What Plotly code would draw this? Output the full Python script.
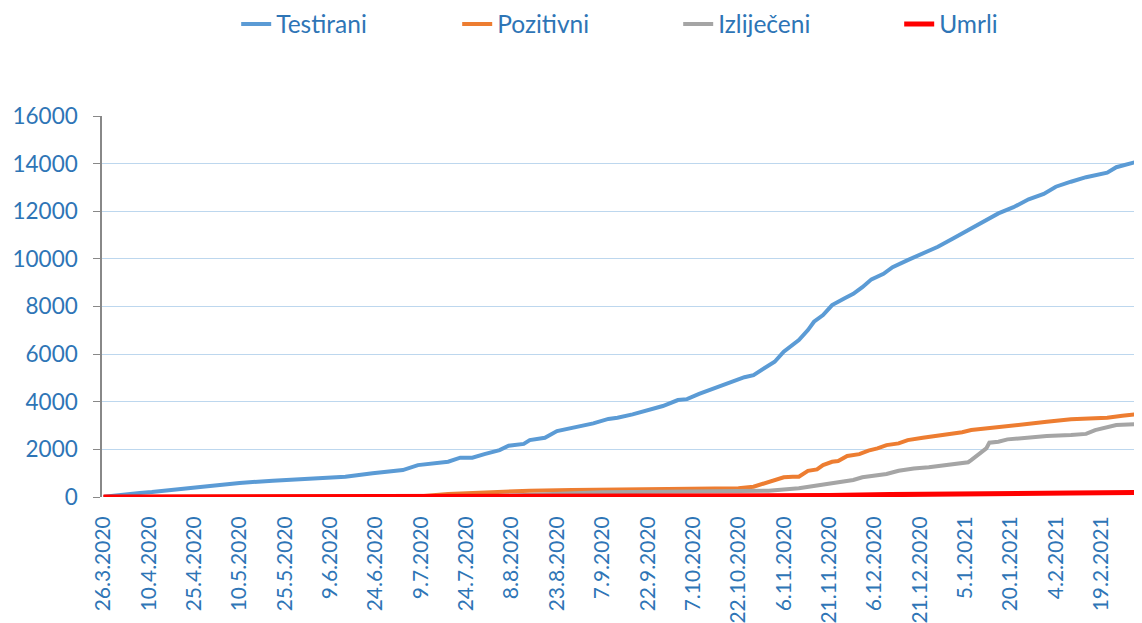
import plotly.graph_objects as go

# ---- data ----
testirani_dates = ["2020-03-26", "2020-03-27", "2020-04-07", "2020-04-11", "2020-04-27", "2020-05-10",
                   "2020-05-21", "2020-06-14", "2020-06-23", "2020-07-03", "2020-07-08", "2020-07-18",
                   "2020-07-22", "2020-07-26", "2020-07-30", "2020-08-04", "2020-08-07", "2020-08-12",
                   "2020-08-14", "2020-08-19", "2020-08-23", "2020-08-28", "2020-09-04", "2020-09-09",
                   "2020-09-12", "2020-09-17", "2020-09-24", "2020-09-27", "2020-10-02", "2020-10-05",
                   "2020-10-09", "2020-10-14", "2020-10-19", "2020-10-24", "2020-10-27", "2020-10-30",
                   "2020-11-03", "2020-11-06", "2020-11-09", "2020-11-11", "2020-11-14", "2020-11-16",
                   "2020-11-19", "2020-11-21", "2020-11-22", "2020-11-26", "2020-11-29", "2020-12-02",
                   "2020-12-05", "2020-12-09", "2020-12-12", "2020-12-17", "2020-12-22", "2020-12-27",
                   "2021-01-01", "2021-01-04", "2021-01-07", "2021-01-12", "2021-01-16", "2021-01-21",
                   "2021-01-26", "2021-01-31", "2021-02-04", "2021-02-09", "2021-02-14", "2021-02-21",
                   "2021-02-24", "2021-03-04"]
testirani = [0, 20, 170, 210, 420, 590,
             685, 850, 1000, 1130, 1340, 1480,
             1650, 1650, 1800, 1970, 2150, 2230,
             2390, 2490, 2770, 2910, 3090, 3280,
             3330, 3470, 3720, 3820, 4070, 4110,
             4330, 4560, 4800, 5030, 5120, 5360,
             5680, 6100, 6380, 6590, 7010, 7360,
             7640, 7920, 8060, 8340, 8530, 8810,
             9140, 9370, 9650, 9950, 10230, 10510,
             10860, 11070, 11290, 11630, 11910, 12170,
             12500, 12730, 13030, 13240, 13430, 13620,
             13850, 14120]

pozitivni_dates = ["2020-03-26", "2020-07-04", "2020-07-10", "2020-07-18", "2020-08-04", "2020-08-14",
                   "2020-08-28", "2020-09-17", "2020-10-12", "2020-10-22", "2020-10-27", "2020-10-30",
                   "2020-11-03", "2020-11-06", "2020-11-09", "2020-11-11", "2020-11-14", "2020-11-17",
                   "2020-11-19", "2020-11-22", "2020-11-24", "2020-11-27", "2020-12-01", "2020-12-04",
                   "2020-12-07", "2020-12-10", "2020-12-14", "2020-12-17", "2020-12-22", "2020-12-27",
                   "2021-01-01", "2021-01-04", "2021-01-07", "2021-01-16", "2021-01-24", "2021-02-01",
                   "2021-02-09", "2021-02-21", "2021-02-26", "2021-03-04"]
pozitivni = [0, 5, 40, 130, 220, 265,
             294, 323, 340, 370, 430, 546,
             714, 830, 850, 850, 1100, 1160,
             1340, 1480, 1510, 1720, 1800, 1950,
             2040, 2180, 2250, 2390, 2490, 2570,
             2670, 2720, 2810, 2950, 3050, 3160,
             3260, 3330, 3410, 3490]

izlijeceni_dates = ["2020-03-26", "2020-07-24", "2020-08-08", "2020-08-23", "2020-09-07", "2020-09-27",
                    "2020-10-22", "2020-11-01", "2020-11-11", "2020-11-16", "2020-11-19", "2020-11-22",
                    "2020-11-26", "2020-11-29", "2020-12-02", "2020-12-05", "2020-12-10", "2020-12-14",
                    "2020-12-19", "2020-12-24", "2020-12-29", "2021-01-02", "2021-01-06", "2021-01-07",
                    "2021-01-12", "2021-01-13", "2021-01-16", "2021-01-19", "2021-01-26", "2021-02-01",
                    "2021-02-09", "2021-02-14", "2021-02-17", "2021-02-21", "2021-02-24", "2021-03-04"]
izlijeceni = [0, 0, 60, 150, 200, 220,
              250, 265, 365, 460, 490, 575,
              645, 714, 830, 895, 966, 1100,
              1200, 1250, 1320, 1390, 1460, 1550,
              2040, 2280, 2320, 2420, 2510, 2560,
              2600, 2650, 2810, 2930, 3020, 3070]

umrli_dates = ["2020-03-26", "2020-10-02", "2020-11-01", "2020-11-21", "2020-12-11", "2020-12-31",
               "2021-01-20", "2021-02-09", "2021-03-04"]
umrli = [0, 10, 30, 60, 100, 140, 160, 170, 190]

tick_dates = ["2020-03-26", "2020-04-10", "2020-04-25", "2020-05-10", "2020-05-25", "2020-06-09",
              "2020-06-24", "2020-07-09", "2020-07-24", "2020-08-08", "2020-08-23", "2020-09-07",
              "2020-09-22", "2020-10-07", "2020-10-22", "2020-11-06", "2020-11-21", "2020-12-06",
              "2020-12-21", "2021-01-05", "2021-01-20", "2021-02-04", "2021-02-19"]
tick_text = ["26.3.2020", "10.4.2020", "25.4.2020", "10.5.2020", "25.5.2020", "9.6.2020",
             "24.6.2020", "9.7.2020", "24.7.2020", "8.8.2020", "23.8.2020", "7.9.2020",
             "22.9.2020", "7.10.2020", "22.10.2020", "6.11.2020", "21.11.2020", "6.12.2020",
             "21.12.2020", "5.1.2021", "20.1.2021", "4.2.2021", "19.2.2021"]

series = [
    ("Testirani", testirani_dates, testirani, "#5B9BD5", 4),
    ("Pozitivni", pozitivni_dates, pozitivni, "#ED7D31", 4),
    ("Izliječeni", izlijeceni_dates, izlijeceni, "#A5A5A5", 4),
    ("Umrli", umrli_dates, umrli, "#FF0000", 5),
]

text_blue = "#2E75B6"
font_family = "Lato, 'Open Sans', sans-serif"

fig = go.Figure()
for name, xs, ys, color, w in series:
    fig.add_trace(go.Scatter(x=xs, y=ys, name=name, mode="lines",
                             line=dict(color=color, width=w, shape="linear")))

fig.update_layout(
    width=1134, height=615,
    margin=dict(l=94, r=0, t=108, b=126),
    paper_bgcolor="white", plot_bgcolor="white",
    font=dict(family=font_family, size=21, color=text_blue),
    showlegend=True,
    legend=dict(orientation="h", x=0.591, xref="container", xanchor="center",
                y=1 - 16 / 615, yref="container", yanchor="middle",
                font=dict(size=24.5, color=text_blue), traceorder="normal",
                entrywidth=176, entrywidthmode="pixels"),
    xaxis=dict(type="date", range=["2020-03-25 12:00", "2021-03-04 12:00"],
               tickmode="array", tickvals=tick_dates, ticktext=tick_text,
               tickangle=-90, showgrid=False, showline=False, ticks="",
               zeroline=False, tickfont=dict(size=21, color=text_blue),
               ticklabelstandoff=14, automargin=False),
    yaxis=dict(range=[0, 16000], dtick=2000, tickformat="d",
               showgrid=True, gridcolor="#BDD7EE", gridwidth=1,
               showline=True, linecolor="#888888", linewidth=1.5, ticks="outside",
               ticklen=7, tickcolor="#888888", zeroline=False, automargin=False,
               tickfont=dict(size=22.5, color=text_blue), ticklabelstandoff=11),
)

fig.write_html("out.html")
